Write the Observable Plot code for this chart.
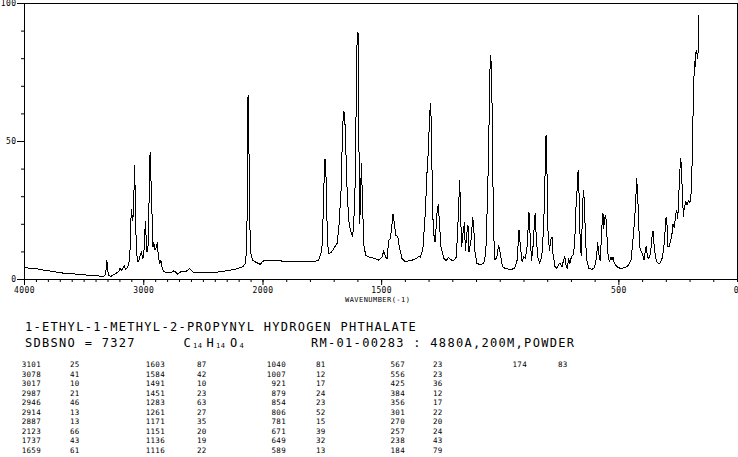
<!DOCTYPE html>
<html><head><meta charset="utf-8">
<script src="https://cdn.jsdelivr.net/npm/d3@7"></script>
<script src="https://cdn.jsdelivr.net/npm/@observablehq/plot@0.6"></script>
<style>
html,body{margin:0;padding:0;background:#fff;}
#wrap{position:relative;width:738px;height:457px;overflow:hidden;background:#fff;}
#wrap svg{display:block}
#overlay{position:absolute;left:0;top:0;}
</style></head><body><div id="wrap"><div id="chart"></div></div>
<script>
// ---- spectrum trace (wavenumber cm-1, relative intensity) ----
const wavenumbers = [4000,3994,3924,3840,3756,3700,3617,3561,3477,3393,3337,3320,3312,3309,3304,3292,3276,3253,3231,3208,3200,3189,3175,3164,3153,3136,3125,3116,3108,3102,3094,3086,3077,3071,3063,3052,3041,3029,3018,3010,3001,2993,2987,2982,2973,2965,2957,2951,2946,2940,2934,2929,2923,2915,2906,2898,2887,2878,2867,2856,2845,2828,2806,2778,2750,2733,2716,2694,2666,2638,2616,2588,2526,2442,2358,2274,2219,2168,2149,2140,2135,2129,2126,2121,2115,2110,2101,2087,2065,2037,2023,2009,1997,1941,1885,1828,1787,1766,1756,1750,1744,1740,1736,1733,1728,1722,1713,1702,1688,1680,1671,1664,1660,1656,1652,1646,1639,1632,1623,1618,1612,1606,1603,1599,1596,1592,1588,1585,1581,1575,1567,1550,1527,1512,1498,1491,1484,1477,1470,1463,1456,1452,1446,1441,1432,1424,1414,1400,1386,1372,1351,1344,1337,1326,1316,1309,1302,1298,1293,1289,1285,1278,1274,1267,1261,1257,1250,1238,1227,1219,1210,1196,1185,1177,1171,1167,1163,1157,1151,1147,1141,1136,1132,1123,1116,1112,1106,1098,1084,1070,1061,1054,1049,1044,1040,1036,1032,1028,1022,1014,1007,1000,991,979,957,940,929,921,915,908,901,894,887,883,879,873,868,862,856,853,849,842,834,825,817,811,807,803,799,793,787,782,778,769,761,752,747,740,733,728,723,718,711,707,700,693,688,683,679,675,672,668,664,659,655,651,648,644,640,634,626,613,603,595,589,585,579,574,570,567,564,560,555,551,546,540,533,529,525,519,508,494,473,459,449,442,436,430,425,421,416,412,405,399,394,388,384,380,374,370,364,359,356,352,346,338,328,318,311,305,301,296,293,287,281,276,272,266,260,256,252,248,244,239,236,232,228,224,218,213,207,201,197,193,190,187,184,182,179,176,172,169,166,163];
const intensities = [4.3,4.2,4.1,3.4,2.9,2.4,2.2,1.9,1.6,1.3,1.2,1.7,5.8,7.0,3.4,1.4,1.1,1.8,2.2,3.1,4.1,3.4,3.9,5.2,3.6,4.3,5.8,9.4,21.5,25.4,21.3,23.9,41.4,30.0,11.8,6.4,6.8,8.8,10.0,7.6,8.2,14.3,21.0,16.7,10.0,11.2,23.9,43.2,46.0,36.0,33.6,19.1,11.8,13.3,10.6,11.2,13.3,8.8,5.8,6.8,4.0,2.8,2.4,2.4,3.1,2.7,1.9,2.7,2.9,3.1,3.9,2.7,2.5,2.4,2.8,3.4,3.9,4.6,5.8,9.4,19.1,31.8,66.2,66.8,31.8,19.1,9.4,7.0,6.4,5.8,5.4,6.3,6.8,6.8,6.5,6.4,6.6,6.8,9.4,13.0,31.2,43.5,43.5,31.2,13.0,9.4,9.7,11.2,13.0,19.1,32.4,55.9,60.7,60.1,50.5,33.6,21.5,17.9,15.5,19.1,33.6,71.0,89.5,89.1,51.1,20.3,33.6,42.0,28.7,12.4,8.8,8.0,7.6,7.0,8.2,10.4,8.2,7.6,14.3,14.9,20.3,23.6,20.3,16.1,15.5,11.2,7.6,6.4,6.8,7.0,7.7,8.5,8.0,11.2,23.9,38.4,48.1,60.1,63.8,48.1,23.9,14.3,13.6,23.9,27.3,21.5,11.8,7.6,6.8,8.0,7.2,6.8,8.2,22.7,36.0,23.9,11.8,16.7,20.5,10.6,16.7,19.7,10.0,14.3,22.5,19.1,9.4,5.8,5.4,5.8,9.4,28.7,46.9,74.6,81.3,73.4,43.2,16.7,7.0,8.2,12.4,9.4,4.6,4.0,3.6,4.0,7.0,17.9,11.8,6.4,8.2,7.6,11.8,17.9,24.4,14.3,7.0,11.8,20.3,23.9,16.7,8.2,5.8,8.2,19.1,38.4,52.3,38.4,17.9,10.6,14.3,15.5,9.4,4.6,4.0,5.8,5.8,4.6,7.0,8.2,5.2,4.0,7.6,5.8,8.2,8.8,11.8,19.1,31.2,32.4,39.6,31.2,16.7,8.8,19.1,30.0,32.1,23.9,13.0,6.4,4.0,3.7,4.2,7.6,13.3,9.4,7.0,14.3,21.5,23.9,18.5,22.1,23.3,16.7,9.4,6.4,8.0,7.0,8.2,5.8,4.6,4.0,4.3,5.2,7.0,13.0,19.1,26.3,36.6,31.2,19.1,11.8,10.0,8.8,7.0,10.9,12.1,8.2,7.6,8.0,11.8,16.7,17.5,13.0,8.2,6.0,5.8,7.6,11.2,17.9,22.7,19.1,11.8,12.1,14.5,16.7,20.0,18.8,23.9,25.1,22.1,28.7,38.4,43.8,39.6,30.0,22.7,26.3,28.1,26.9,28.7,27.8,29.3,36.0,48.1,61.4,71.0,78.9,77.0,81.9,83.1,80.1,82.5,95.8];

// ---- axis ticks ----
const xLabelTicks = [4000, 3000, 2000, 1500, 500];
const xEdgeTicks = [0];
const yLabelTicks = [0, 50, 100];
const xMinorTicks = d3.range(4000, -1, -100);
const yMinorTicks = d3.range(0, 101, 10);

// ---- peak table ----
const peakWavenumbers = [3101,3078,3017,2987,2946,2914,2887,2123,1737,1659,1603,1584,1491,1451,1283,1261,1171,1151,1136,1116,1040,1007,921,879,854,806,781,671,649,589,567,556,425,384,356,301,270,257,238,184,174];
const peakIntensities = [25,41,10,21,46,13,13,66,43,61,87,42,10,23,63,27,35,20,19,22,81,12,17,24,23,52,15,39,32,13,23,23,36,12,17,22,20,24,43,79,83];

// ---- texts ----
const compoundName = "1-ETHYL-1-METHYL-2-PROPYNYL HYDROGEN PHTHALATE";
const sdbsNo = "SDBSNO = 7327";
const formulaParts = [["C","14"],["H","14"],["O","4"]];
const sampleInfo = "RM-01-00283 : 4880A,200M,POWDER";
const xAxisTitle = "WAVENUMBER(-1)";

const spectrum = wavenumbers.map((w, k) => ({wn: w, val: intensities[k]}));
const mono = "'DejaVu Sans Mono', 'Liberation Mono', monospace";

const chart = Plot.plot({
  width: 738, height: 305,
  marginLeft: 24, marginRight: 1, marginTop: 3, marginBottom: 26,
  x: {type: "linear", domain: [4000, 2000, 0], range: [24, 262.5, 737], label: null},
  y: {domain: [0, 100], range: [279, 3], label: null},
  style: {fontFamily: mono, fontSize: "8px", letterSpacing: "0.4px", background: "white", color: "black", overflow: "visible"},
  marks: [
    Plot.axisX({ticks: xMinorTicks, tickSize: 3, tickFormat: () => "", label: null, stroke: "black"}),
    Plot.axisX({ticks: xLabelTicks, tickSize: 6, tickPadding: 2, tickFormat: d => String(d), label: null, stroke: "black", fill: "black"}),
    Plot.axisX({ticks: xEdgeTicks, tickSize: 6, tickPadding: 2, tickFormat: d => String(d), textAnchor: "end", dx: 1.5, label: null, stroke: "black", fill: "black"}),
    Plot.axisY({ticks: yMinorTicks, tickSize: 3, tickFormat: () => "", label: null, stroke: "black"}),
    Plot.axisY({ticks: yLabelTicks, tickSize: 7, tickPadding: 1, tickFormat: d => String(d), label: null, stroke: "black", fill: "black"}),
    Plot.line(spectrum, {x: "wn", y: "val", stroke: "black", strokeWidth: 1, shapeRendering: "crispEdges"}),
    Plot.frame({stroke: "black", strokeWidth: 1, shapeRendering: "crispEdges"})
  ]
});
document.getElementById("chart").appendChild(chart);

// ---- text block below the chart ----
const svg = d3.select("#wrap").append("svg").attr("id", "overlay")
  .attr("width", 738).attr("height", 457)
  .style("font-family", mono).style("pointer-events", "none");

svg.append("text").attr("x", 345).attr("y", 302)
  .style("font-size", "7px").style("letter-spacing", "0.45px").text(xAxisTitle);

const big = {size: "12px", ls: "1.3px"};
svg.append("text").attr("x", 25).attr("y", 330.5)
  .style("font-size", big.size).style("letter-spacing", big.ls).text(compoundName);
svg.append("text").attr("x", 25).attr("y", 346.5)
  .style("font-size", big.size).style("letter-spacing", big.ls).text(sdbsNo);
const formulaX = [183.5, 206.5, 230];
formulaParts.forEach(([el, n], k) => {
  svg.append("text").attr("x", formulaX[k]).attr("y", 346.5)
    .style("font-size", big.size).text(el);
  svg.append("text").attr("x", formulaX[k] + 9.5).attr("y", 348)
    .style("font-size", "7px").style("letter-spacing", "0.6px").text(n);
});
svg.append("text").attr("x", 311).attr("y", 346.5)
  .style("font-size", big.size).style("letter-spacing", big.ls).text(sampleInfo);

const wnRight = [41, 165, 286, 405, 527];
const intLeft = [70, 197, 316, 433, 558];
peakWavenumbers.forEach((w, k) => {
  const c = Math.floor(k / 10), r = k % 10;
  const base = 367 + r * 9.5;
  svg.append("text").attr("x", wnRight[c]).attr("y", base).attr("text-anchor", "end")
    .style("font-size", "7.5px").style("letter-spacing", "0.3px").text(String(w));
  svg.append("text").attr("x", intLeft[c]).attr("y", base)
    .style("font-size", "7.5px").style("letter-spacing", "0.3px").text(String(peakIntensities[k]));
});
</script></body></html>
